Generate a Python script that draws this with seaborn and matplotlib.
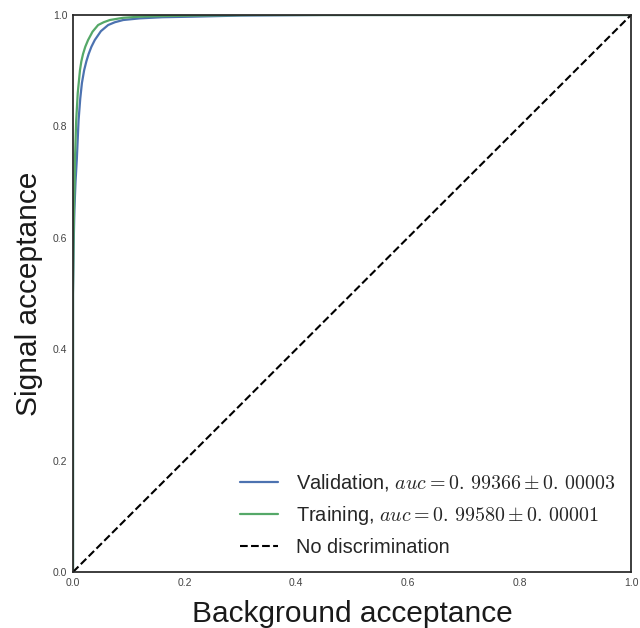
import matplotlib
matplotlib.use("Agg")
import matplotlib.pyplot as plt
import seaborn as sns
import pandas as pd

# ROC curve points (background acceptance, signal acceptance)
val_fpr = [0.0, 0.0, 0.001, 0.0025, 0.0045, 0.0068, 0.010, 0.013, 0.016, 0.020, 0.024, 0.028,
           0.033, 0.039, 0.050, 0.063, 0.075, 0.090, 0.120, 0.160, 0.215, 0.300, 0.450, 1.0]
val_tpr = [0.0, 0.50, 0.58, 0.65, 0.70, 0.74, 0.811, 0.850, 0.878, 0.901, 0.917, 0.930,
           0.943, 0.955, 0.971, 0.982, 0.987, 0.991, 0.994, 0.996, 0.997, 0.999, 1.0, 1.0]

trn_fpr = [0.0, 0.0, 0.001, 0.002, 0.003, 0.0035, 0.0057, 0.0085, 0.0125, 0.015, 0.018,
           0.022, 0.027, 0.035, 0.045, 0.055, 0.066, 0.090, 0.120, 0.156, 0.220, 0.320, 0.5, 1.0]
trn_tpr = [0.0, 0.50, 0.60, 0.66, 0.70, 0.74, 0.81, 0.86, 0.901, 0.917, 0.930,
           0.943, 0.955, 0.970, 0.982, 0.987, 0.991, 0.995, 0.997, 0.998, 0.999, 1.0, 1.0, 1.0]

val_auc, val_err = "0.\\,99366", "0.\\,00003"
trn_auc, trn_err = "0.\\,99580", "0.\\,00001"

diag = [0.0, 1.0]

sns.set_style("white")
plt.rcParams["font.family"] = ["Liberation Sans", "DejaVu Sans"]
plt.rcParams["mathtext.fontset"] = "cm"

fig = plt.figure(figsize=(6.4, 6.28), dpi=100)
ax = fig.add_axes([73 / 640, 56 / 628, 558 / 640, 557 / 628])

pal = sns.color_palette("deep")

val_df = pd.DataFrame({"fpr": val_fpr, "tpr": val_tpr})
trn_df = pd.DataFrame({"fpr": trn_fpr, "tpr": trn_tpr})

sns.lineplot(data=val_df, x="fpr", y="tpr", sort=False, estimator=None, ax=ax,
             color=pal[0], linewidth=1.6,
             label=r"Validation, $auc = %s \pm %s$" % (val_auc, val_err))
sns.lineplot(data=trn_df, x="fpr", y="tpr", sort=False, estimator=None, ax=ax,
             color=pal[2], linewidth=1.6,
             label=r"Training, $auc = %s \pm %s$" % (trn_auc, trn_err))
sns.lineplot(x=diag, y=diag, sort=False, estimator=None, ax=ax,
             color="black", linestyle="--", linewidth=1.5,
             label="No discrimination")

ax.set_xlim(0, 1)
ax.set_ylim(0, 1)
ax.set_xticks([0.0, 0.2, 0.4, 0.6, 0.8, 1.0])
ax.set_yticks([0.0, 0.2, 0.4, 0.6, 0.8, 1.0])
ax.tick_params(labelsize=7.5, colors="#444444", length=0, pad=4)
for s in ax.spines.values():
    s.set_color("#262626")
    s.set_linewidth(1.25)

ax.set_xlabel("Background acceptance", fontsize=21.5, color="#1a1a1a", labelpad=9)
ax.set_ylabel("Signal acceptance", fontsize=21.5, color="#1a1a1a", labelpad=7)

leg = ax.legend(loc="lower right", fontsize=14.4, frameon=False,
                handlelength=1.9, handletextpad=0.9, labelspacing=0.55,
                borderaxespad=0.35)
for t in leg.get_texts():
    t.set_color("#262626")

fig.savefig("out.png", dpi=100)
